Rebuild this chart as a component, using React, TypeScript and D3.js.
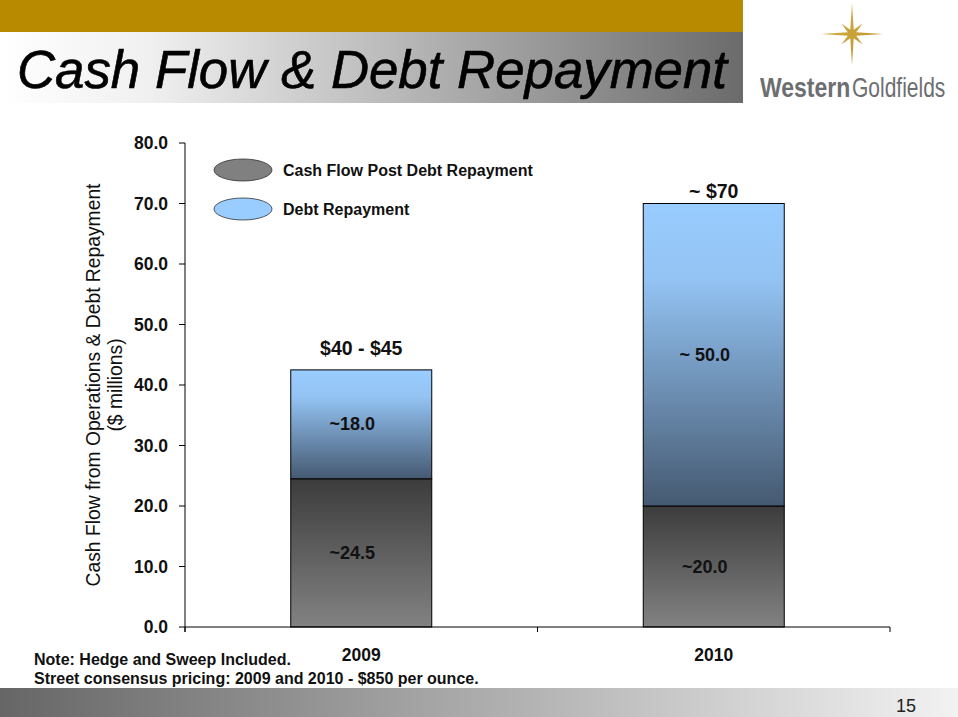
import React from 'react';
import * as d3 from 'd3';

const categories = ['2009', '2010'];
const cashFlowPost = [24.5, 20.0];
const debtRepayment = [18.0, 50.0];
const cashFlowLabels = ['~24.5', '~20.0'];
const debtLabels = ['~18.0', '~ 50.0'];
const totalLabels = ['$40 - $45', '~ $70'];
const yTicks = [0, 10, 20, 30, 40, 50, 60, 70, 80];
const seriesNames = ['Cash Flow Post Debt Repayment', 'Debt Repayment'];
const yTitle = ['Cash Flow from Operations & Debt Repayment', '($ millions)'];
const notes = ['Note: Hedge and Sweep Included.', 'Street consensus pricing: 2009 and 2010 - $850 per ounce.'];
const title = 'Cash Flow & Debt Repayment';
const logoWords = ['Western', 'Goldfields'];
const pageNumber = '15';

const FONT = "'Liberation Sans', Arial, Helvetica, sans-serif";
const W = 958;
const H = 717;

export default function App() {
  const y = d3.scaleLinear().domain([0, 80]).range([627, 143]);
  const x = d3.scaleBand().domain(categories).range([185, 890]).padding(0);
  const bw = x.bandwidth() * 0.4;
  const table = categories.map((c, i) => ({ cat: c, cash: cashFlowPost[i], debt: debtRepayment[i] }));
  const stacked = d3.stack<any>().keys(['cash', 'debt'])(table);
  const fills = ['url(#gCash)', 'url(#gDebt)'];
  const segLabels = [cashFlowLabels, debtLabels];

  // star logo
  const cx = 852, cy = 34;
  const starPts = d3.range(16).map((k) => {
    const a = (k * Math.PI) / 8 - Math.PI / 2;
    let r;
    if (k % 2 === 1) r = 4.5;
    else if (k % 4 === 0) r = 31;
    else r = 15;
    return [cx + r * Math.cos(a), cy + r * Math.sin(a)] as [number, number];
  });
  const starPath = d3.line()(starPts.concat([starPts[0]])) + 'Z';

  return (
    <svg width={W} height={H} style={{ position: 'absolute', left: 0, top: 0, background: '#fff' }} fontFamily={FONT}>
      <defs>
        <linearGradient id="gHeader" x1="0" y1="0" x2="1" y2="0">
          <stop offset="0" stopColor="#ffffff" />
          <stop offset="0.2" stopColor="#f0f0f0" />
          <stop offset="1" stopColor="#6b6b6b" />
        </linearGradient>
        <linearGradient id="gFooter" x1="0" y1="0" x2="1" y2="0">
          <stop offset="0" stopColor="#666666" />
          <stop offset="1" stopColor="#f2f2f2" />
        </linearGradient>
        <linearGradient id="gCash" x1="0" y1="0" x2="0" y2="1">
          <stop offset="0" stopColor="#3c3c3c" />
          <stop offset="1" stopColor="#828282" />
        </linearGradient>
        <linearGradient id="gDebt" x1="0" y1="0" x2="0" y2="1">
          <stop offset="0" stopColor="#99ccff" />
          <stop offset="0.25" stopColor="#93c3f3" />
          <stop offset="1" stopColor="#455971" />
        </linearGradient>
        <linearGradient id="gStar" x1="0" y1="0" x2="1" y2="1">
          <stop offset="0" stopColor="#d9b450" />
          <stop offset="1" stopColor="#b98f22" />
        </linearGradient>
      </defs>

      {/* header */}
      <rect x={0} y={0} width={743} height={32} fill="#b88a00" />
      <rect x={0} y={32} width={743} height={71} fill="url(#gHeader)" />
      <text x={17} y={88} fontSize={53} fontStyle="italic" fill="#000" stroke="#000" strokeWidth={0.6} textLength={710} lengthAdjust="spacingAndGlyphs">
        {title}
      </text>

      {/* logo */}
      <path d={starPath} fill="url(#gStar)" />
      <g transform="translate(760, 97) scale(1, 1.2)">
        <text x={0} y={0} fontSize={23} fill="#6d6e71" fontWeight={700}>
          {logoWords[0]}
        </text>
      </g>
      <g transform="translate(852, 97) scale(1, 1.3)">
        <text x={0} y={0} fontSize={21} fill="#6d6e71" fontWeight={400}>
          {logoWords[1]}
        </text>
      </g>

      {/* bars */}
      {stacked.map((s, si) =>
        s.map((d, i) => {
          const cat = categories[i];
          const x0 = (x(cat) as number) + (x.bandwidth() - bw) / 2;
          const yTop = y(d[1]);
          const yBot = y(d[0]);
          return (
            <g key={`${si}-${i}`}>
              <rect x={x0} y={yTop} width={bw} height={yBot - yTop} fill={fills[si]} stroke="#000" strokeWidth={1} />
              <text
                x={x0 + bw / 2 - 9}
                y={(yTop + yBot) / 2 + 6}
                textAnchor="middle"
                fontSize={18}
                fontWeight={700}
                fill="#111"
              >
                {segLabels[si][i]}
              </text>
            </g>
          );
        })
      )}

      {/* totals */}
      {categories.map((c, i) => {
        const total = cashFlowPost[i] + debtRepayment[i];
        const cxb = (x(c) as number) + x.bandwidth() / 2;
        return (
          <text key={c} x={cxb} y={y(total) - (i === 0 ? 15 : 6)} textAnchor="middle" fontSize={19.5} fontWeight={700} fill="#111">
            {totalLabels[i]}
          </text>
        );
      })}

      {/* y axis */}
      <line x1={185} x2={185} y1={y(80)} y2={y(0) + 5} stroke="#000" strokeWidth={1} />
      {yTicks.map((t) => (
        <g key={t}>
          <line x1={179} x2={185} y1={y(t)} y2={y(t)} stroke="#000" />
          <text x={168} y={y(t) + 6} textAnchor="end" fontSize={17.5} fontWeight={700} fill="#111">
            {t.toFixed(1)}
          </text>
        </g>
      ))}

      {/* x axis */}
      <line x1={185} x2={890} y1={y(0)} y2={y(0)} stroke="#000" strokeWidth={1} />
      {[...categories.map((c) => x(c) as number), 890].map((v, i) => (
        <line key={i} x1={v} x2={v} y1={y(0)} y2={y(0) + 5} stroke="#000" />
      ))}
      {categories.map((c) => (
        <text key={c} x={(x(c) as number) + x.bandwidth() / 2} y={661} textAnchor="middle" fontSize={17.5} fontWeight={700} fill="#111">
          {c}
        </text>
      ))}

      {/* y title */}
      <g transform={`translate(100, ${(y(0) + y(80)) / 2}) rotate(-90)`}>
        <text x={0} y={0} textAnchor="middle" fontSize={19.3} fill="#111">{yTitle[0]}</text>
      </g>
      <g transform={`translate(122, ${(y(0) + y(80)) / 2}) rotate(-90)`}>
        <text x={0} y={0} textAnchor="middle" fontSize={19.3} fill="#111">{yTitle[1]}</text>
      </g>

      {/* legend */}
      {seriesNames.map((n, i) => (
        <g key={n}>
          <ellipse cx={243} cy={170 + i * 39} rx={29} ry={11} fill={i === 0 ? '#808080' : '#99ccff'} stroke="#333" strokeWidth={0.8} />
          <text x={283} y={176 + i * 39} fontSize={16} fontWeight={700} fill="#111">{n}</text>
        </g>
      ))}

      {/* notes */}
      {notes.map((n, i) => (
        <text key={i} x={34} y={665 + i * 19} fontSize={16} fontWeight={700} fill="#111">{n}</text>
      ))}

      {/* footer */}
      <rect x={0} y={688} width={W} height={29} fill="url(#gFooter)" />
      <text x={916} y={712} textAnchor="end" fontSize={18} fill="#222">{pageNumber}</text>
    </svg>
  );
}
